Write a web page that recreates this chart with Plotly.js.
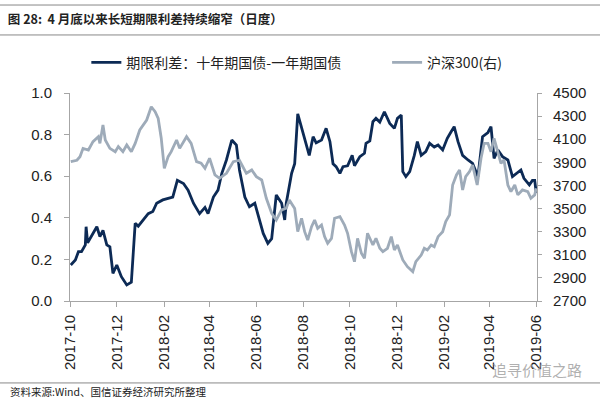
<!DOCTYPE html>
<html>
<head>
<meta charset="utf-8">
<script src="https://cdn.plot.ly/plotly-3.0.1.min.js"></script>
<style>html,body{margin:0;padding:0;background:#fff;}#chart{width:600px;height:399px;}</style>
</head>
<body>
<div id="chart"></div>
<script>
// Day offsets from 2017-10-01 and values
const spreadDays = [1,7,11,15,20,21,23,28,35,39,43,48,52,56,61,67,74,80,85,89,95,102,108,113,121,134,140,148,154,161,169,176,180,187,193,198,204,211,217,221,228,234,241,245,252,258,263,269,276,280,282,289,293,297,304,308,312,317,321,328,334,339,343,347,352,356,362,368,371,378,384,386,391,395,399,404,410,417,423,427,432,434,438,443,449,453,458,464,469,475,480,486,492,497,501,506,512,519,525,532,538,545,549,553,558,564,571,577,582,588,592,599,603,606,608];
const spreadVals = [0.173,0.197,0.237,0.237,0.27,0.357,0.28,0.31,0.357,0.31,0.34,0.27,0.26,0.133,0.173,0.117,0.077,0.09,0.373,0.36,0.39,0.42,0.43,0.47,0.486,0.50,0.58,0.565,0.533,0.47,0.42,0.45,0.42,0.50,0.533,0.614,0.678,0.774,0.75,0.63,0.50,0.453,0.47,0.42,0.325,0.277,0.30,0.51,0.47,0.39,0.47,0.614,0.66,0.90,0.80,0.75,0.70,0.79,0.76,0.774,0.83,0.766,0.66,0.646,0.614,0.646,0.65,0.70,0.65,0.694,0.71,0.758,0.77,0.862,0.878,0.86,0.91,0.854,0.83,0.878,0.894,0.622,0.598,0.622,0.70,0.766,0.70,0.718,0.758,0.74,0.75,0.726,0.782,0.814,0.838,0.766,0.70,0.678,0.662,0.598,0.79,0.81,0.838,0.686,0.726,0.694,0.678,0.598,0.614,0.63,0.59,0.558,0.58,0.58,0.52];

const csiDays = [1,9,13,17,24,30,37,39,43,46,52,59,63,69,74,80,85,91,100,106,111,115,119,123,128,132,139,143,152,158,165,171,176,182,189,195,204,213,221,230,237,243,250,256,263,269,276,282,286,293,297,302,306,310,315,319,323,328,332,336,341,345,352,358,362,367,371,375,380,384,388,395,399,404,408,414,419,423,427,434,440,447,451,458,462,466,471,475,480,486,490,495,499,504,508,512,516,521,525,531,536,540,545,549,553,558,562,566,571,575,580,584,590,597,601,606,608];
const csiVals = [3906,3918,3949,4021,4007,4079,4122,4064,4223,4093,4021,3992,4036,3992,4050,3992,4064,4180,4266,4381,4338,4280,4108,3848,3949,3992,4093,4021,4122,4064,3906,3892,3848,3935,3791,3762,3805,3906,3918,3805,3834,3776,3747,3589,3459,3401,3488,3503,3574,3500,3300,3416,3300,3228,3343,3401,3329,3358,3257,3199,3242,3416,3430,3358,3286,3127,3040,3242,3113,3069,3286,3185,3242,3156,3127,3156,3257,3141,3185,3055,2997,2954,3040,3098,3156,3141,3185,3170,3257,3300,3387,3445,3704,3791,3834,3661,3776,3820,3877,3704,3935,4064,4064,3992,4108,3992,3892,3920,3704,3646,3704,3618,3661,3646,3589,3618,3675];

const seriesNames = ['期限利差：十年期国债-一年期国债', '沪深300(右)'];
const titleText = '图 28:&nbsp;&nbsp;4 月底以来长短期限利差持续缩窄（日度）';
const sourceText = '资料来源:Wind、国信证券经济研究所整理';
const watermarkText = '追寻价值之路';

function toDate(d) {
  return new Date(Date.UTC(2017, 9, 1) + d * 86400000).toISOString().slice(0, 10);
}

const tickFont = {family: 'Liberation Sans, Arial, sans-serif', size: 15, color: '#222'};
const cjk = 'Noto Sans CJK SC, sans-serif';
const legendFont = {family: cjk, size: 14, color: '#222'};

const traces = [
  {x: spreadDays.map(toDate), y: spreadVals, name: seriesNames[0], type: 'scatter', mode: 'lines',
   line: {color: '#0c2a55', width: 2.8}, yaxis: 'y', legend: 'legend'},
  {x: csiDays.map(toDate), y: csiVals, name: seriesNames[1], type: 'scatter', mode: 'lines',
   line: {color: '#9eabb9', width: 2.8}, yaxis: 'y2', legend: 'legend2'}
];

const layout = {
  width: 600, height: 399,
  margin: {l: 70, r: 63, t: 93, b: 98},
  paper_bgcolor: '#fff', plot_bgcolor: '#fff',
  showlegend: true,
  title: {text: '<b>' + titleText + '</b>', x: 0.013, xanchor: 'left', xref: 'container',
          y: 0.95, yanchor: 'middle', yref: 'container',
          font: {family: cjk, size: 12.5, color: '#222'}},
  legend: {orientation: 'h', x: 0.035, xanchor: 'left', y: 1.145, yanchor: 'middle',
           font: legendFont, bgcolor: 'rgba(0,0,0,0)'},
  legend2: {orientation: 'h', x: 0.679, xanchor: 'left', y: 1.145, yanchor: 'middle',
           font: legendFont, bgcolor: 'rgba(0,0,0,0)'},
  xaxis: {type: 'date', range: ['2017-10-01', '2019-06-02'], tick0: '2017-10-01', dtick: 'M2',
          tickformat: '%Y-%m', tickangle: -90, showgrid: false, zeroline: false,
          showline: true, linecolor: '#a6a6a6', linewidth: 1, ticks: 'outside', ticklen: 5,
          tickcolor: '#a6a6a6', tickfont: tickFont, ticklabelstandoff: 2},
  yaxis: {range: [0, 1.0], dtick: 0.2, tickformat: '.1f', showgrid: false, zeroline: false,
          showline: true, linecolor: '#a6a6a6', linewidth: 1, ticks: 'outside', ticklen: 5,
          tickcolor: '#a6a6a6', tickfont: tickFont, ticklabelstandoff: 9},
  yaxis2: {range: [2700, 4500], tick0: 2700, dtick: 200, overlaying: 'y', side: 'right', showgrid: false,
           zeroline: false, showline: true, linecolor: '#a6a6a6', linewidth: 1, ticks: 'outside',
           ticklen: 4, tickcolor: '#a6a6a6', tickfont: tickFont, ticklabelstandoff: 8},
  shapes: [
    {type: 'line', xref: 'paper', yref: 'paper', x0: -0.15, x1: 1.135, y0: 1.423, y1: 1.423,
     line: {color: '#888', width: 1}},
    {type: 'line', xref: 'paper', yref: 'paper', x0: -0.15, x1: 1.135, y0: 1.279, y1: 1.279,
     line: {color: '#888', width: 1}},
    {type: 'line', xref: 'paper', yref: 'paper', x0: -0.15, x1: 1.135, y0: -0.394, y1: -0.394,
     line: {color: '#888', width: 1}}
  ],
  annotations: [
    {text: sourceText, xref: 'paper', yref: 'paper', x: -0.133, y: -0.435, xanchor: 'left',
     yanchor: 'middle', showarrow: false, font: {family: cjk, size: 10.5, color: '#222'}},
    {text: watermarkText, xref: 'paper', yref: 'paper', x: 1.0, y: -0.33, xanchor: 'center',
     yanchor: 'middle', showarrow: false, font: {family: cjk, size: 15, color: 'rgba(150,150,150,0.75)'}}
  ]
};

Plotly.newPlot('chart', traces, layout, {displayModeBar: false, staticPlot: true});
</script>
</body>
</html>
